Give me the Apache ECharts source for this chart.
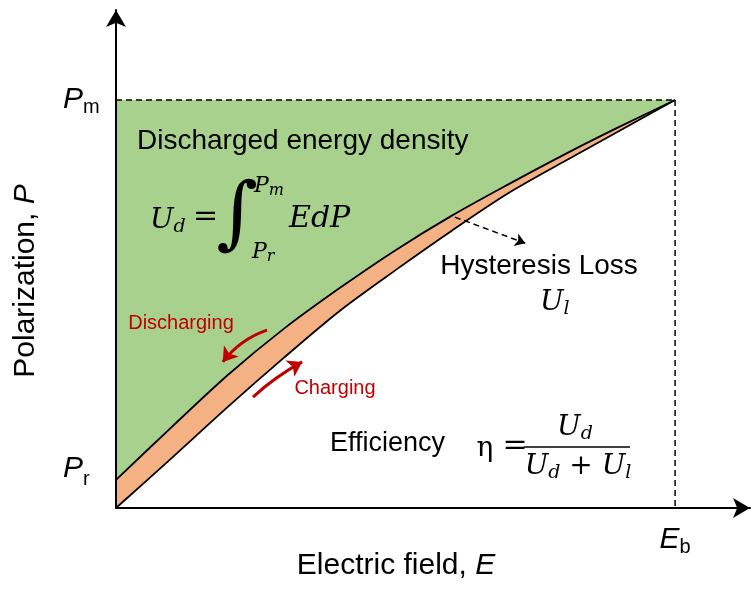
<!DOCTYPE html>
<html><head><meta charset="utf-8">
<script src="https://cdn.jsdelivr.net/npm/echarts@6/dist/echarts.min.js"></script>
<style>html,body{margin:0;padding:0;background:#fff}#c{width:752px;height:590px}</style>
</head><body><div id="c"></div>
<script>
// Discharging branch (upper curve): E and P values
const upperE = [0, 10, 20, 30, 40, 50, 60, 70, 80, 90, 100];
const upperP = [6.9, 19.9, 32.6, 43.9, 53.9, 63.2, 71.6, 79.2, 86.5, 93.4, 100];
// Charging branch (lower curve)
const lowerE = [0, 10, 20, 30, 40, 50, 60, 70, 80, 90, 100];
const lowerP = [0, 12.3, 24.8, 36.8, 48.3, 58.3, 67.9, 77.0, 84.8, 92.4, 100];
// reference values
const Pm = 100, Pr = 6.9, Eb = 100;
const yTicks = [Pr, Pm];
const yTickLabels = ['{pr|P}{sr|r}', '{i|P}{sb|m}'];
const xTicks = [Eb];
const xTickLabels = ['{i|E}{sb|b}'];
// annotation arrows [E1,P1,E2,P2]
const dischargeArrow = [27.0, 43.6, 19.1, 35.8];
const chargeArrow = [24.5, 27.2, 33.3, 35.8];
const lossArrow = [60.6, 71.3, 73.2, 64.9];

const GREEN = '#A9D18E', ORANGE = '#F4B183', RED = '#C00000';
const SANS = '"Liberation Sans", Arial, sans-serif';
const SERIF = '"DejaVu Serif", serif';

const tickRich = {
  i: {fontFamily: SANS, fontStyle: 'italic', fontSize: 30, lineHeight: 34, color: '#000'},
  pr: {fontFamily: SANS, fontStyle: 'italic', fontSize: 30, lineHeight: 34, padding: [0,0,22,0], color: '#000'},
  sb: {fontFamily: SANS, fontSize: 20, lineHeight: 16, verticalAlign: 'bottom', color: '#000'},
  sr: {fontFamily: SANS, fontSize: 20, lineHeight: 16, verticalAlign: 'middle', color: '#000'}
};
const mathRich = {
  U: {fontFamily: SERIF, fontStyle: 'italic', fontSize: 28, lineHeight: 32, fill: '#000', color: '#000'},
  d: {fontFamily: SERIF, fontStyle: 'italic', fontSize: 19, lineHeight: 14, verticalAlign: 'bottom', fill: '#000', color: '#000'},
  o: {fontFamily: SERIF, fontSize: 28, lineHeight: 32, fill: '#000', color: '#000'},
  P: {fontFamily: SERIF, fontStyle: 'italic', fontSize: 22, lineHeight: 26, fill: '#000', color: '#000'},
  s: {fontFamily: SERIF, fontStyle: 'italic', fontSize: 16, lineHeight: 12, verticalAlign: 'bottom', fill: '#000', color: '#000'},
  n: {fontFamily: SANS, fontSize: 30, lineHeight: 34, fill: '#000', color: '#000'},
  it: {fontFamily: SANS, fontStyle: 'italic', fontSize: 30, lineHeight: 34, fill: '#000', color: '#000'}
};

function txt(text, x, y, opts) {
  opts = opts || {};
  return {
    type: 'text', x: x, y: y, z: 100, rotation: opts.rotation || 0, silent: true,
    style: {
      text: text, rich: mathRich,
      font: opts.font || ('28px ' + SANS),
      fill: opts.fill || '#000',
      align: opts.align || 'left', textAlign: opts.align || 'left',
      verticalAlign: 'middle', textVerticalAlign: 'middle'
    }
  };
}

const chart = echarts.init(document.getElementById('c'));
chart.setOption({
  animation: false,
  backgroundColor: '#fff',
  grid: {left: 116, right: 2, top: 10, bottom: 82, containLabel: false},
  xAxis: {
    type: 'value', min: 0, max: 113.4, z: 5,
    splitLine: {show: false}, axisTick: {show: false},
    axisLine: {onZero: false, symbol: ['none', 'arrow'], symbolSize: [15, 17], lineStyle: {color: '#000', width: 2}},
    axisLabel: {customValues: xTicks, margin: 15, formatter: v => xTickLabels[xTicks.indexOf(v)], rich: tickRich}
  },
  yAxis: {
    type: 'value', min: 0, max: 122.06, z: 5,
    splitLine: {show: false}, axisTick: {show: false},
    axisLine: {onZero: false, symbol: ['none', 'arrow'], symbolSize: [15, 17], lineStyle: {color: '#000', width: 2}},
    axisLabel: {customValues: yTicks, margin: 53, align: 'left', formatter: v => yTickLabels[yTicks.indexOf(v)], rich: tickRich}
  },
  series: [
    {
      type: 'line', name: 'Charging', data: lowerE.map((e, i) => [e, lowerP[i]]),
      showSymbol: false, symbol: 'none', smooth: 0.3,
      lineStyle: {color: '#000', width: 1.8},
      areaStyle: {color: ORANGE, opacity: 1, origin: Pm}
    },
    {
      type: 'line', name: 'Discharging', data: upperE.map((e, i) => [e, upperP[i]]),
      showSymbol: false, symbol: 'none', smooth: 0.3,
      lineStyle: {color: '#000', width: 1.8},
      areaStyle: {color: GREEN, opacity: 1, origin: Pm}
    },
    {
      type: 'line', data: [[0, Pm], [Eb, Pm]], symbol: 'none',
      lineStyle: {color: '#000', width: 1.5, type: [6, 4]}
    },
    {
      type: 'line', data: [[Eb, Pm], [Eb, 0]], symbol: 'none',
      lineStyle: {color: '#000', width: 1.5, type: [6, 4]}
    },
    {
      type: 'lines', coordinateSystem: 'cartesian2d', z: 4,
      symbol: ['none', 'arrow'], symbolSize: 14,
      lineStyle: {color: RED, width: 3, opacity: 1},
      data: [
        {coords: [[dischargeArrow[0], dischargeArrow[1]], [dischargeArrow[2], dischargeArrow[3]]], lineStyle: {curveness: -0.15}},
        {coords: [[chargeArrow[0], chargeArrow[1]], [chargeArrow[2], chargeArrow[3]]], lineStyle: {curveness: 0.06}}
      ]
    },
    {
      type: 'lines', coordinateSystem: 'cartesian2d', z: 4,
      symbol: ['none', 'arrow'], symbolSize: 10,
      lineStyle: {color: '#000', width: 1.5, type: [6, 4], opacity: 1},
      data: [{coords: [[lossArrow[0], lossArrow[1]], [lossArrow[2], lossArrow[3]]]}]
    }
  ],
  graphic: [
    {type: 'rect', z: 3, silent: true, shape: {x: 128, y: 163, width: 238, height: 105}, style: {fill: 'rgba(255,255,255,0.12)'}},
    txt('Discharged energy density', 137, 141),
    txt('{U|U}{d|d}', 150, 221),
    txt('=', 193, 217, {font: '30px ' + SERIF}),
    txt('\u222B', 237, 218, {font: '80px ' + SERIF, align: 'center'}),
    txt('{P|P}{s|m}', 254, 186),
    txt('{P|P}{s|r}', 252, 252),
    txt('EdP', 289, 219, {font: 'italic 30px ' + SERIF}),
    txt('Hysteresis Loss', 539, 266, {align: 'center'}),
    txt('{U|U}{d|l}', 540, 303),
    txt('Efficiency', 330, 444, {font: '27px ' + SANS}),
    txt('\u03B7', 485, 449, {font: '28px ' + SERIF, align: 'center'}),
    txt('=', 515, 446, {font: '30px ' + SERIF, align: 'center'}),
    {type: 'line', z: 100, silent: true, shape: {x1: 524, y1: 447, x2: 630, y2: 447}, style: {stroke: '#000', lineWidth: 1.5}},
    txt('{U|U}{d|d}', 575, 428, {align: 'center'}),
    txt('{U|U}{d|d}{o| + }{U|U}{d|l}', 578, 467, {align: 'center'}),
    txt('Discharging', 181, 323, {font: '20px ' + SANS, fill: RED, align: 'center'}),
    txt('Charging', 335, 388, {font: '20px ' + SANS, fill: RED, align: 'center'}),
    txt('{n|Electric field, }{it|E}', 396, 566, {align: 'center'}),
    txt('{n|Polarization, }{it|P}', 26, 281, {align: 'center', rotation: Math.PI / 2})
  ]
});
</script>
</body></html>
